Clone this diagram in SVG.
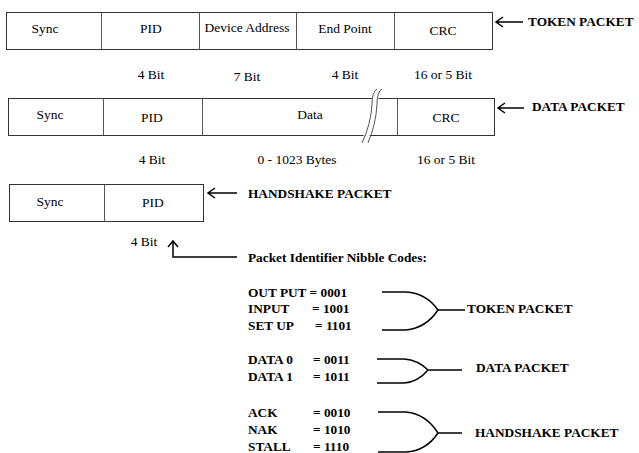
<svg xmlns="http://www.w3.org/2000/svg" width="639" height="453" viewBox="0 0 639 453" font-family="Liberation Serif, DejaVu Serif, serif">
<style>
.box{fill:#fff;stroke:#333;stroke-width:1}
.div{stroke:#555;stroke-width:1}
.t{font-size:13.5px;fill:#000;text-anchor:middle}
.b{font-size:13.3px;font-weight:bold;fill:#000}
.ln{fill:none;stroke:#000;stroke-width:1.5}
</style>
<rect width="639" height="453" fill="#fff"/>
<g id="token-packet">
<rect class="box" x="6.5" y="12.5" width="486" height="37"/>
<line class="div" x1="101.5" y1="12.5" x2="101.5" y2="49.5"/>
<line class="div" x1="199.5" y1="12.5" x2="199.5" y2="49.5"/>
<line class="div" x1="296.5" y1="12.5" x2="296.5" y2="49.5"/>
<line class="div" x1="394.5" y1="12.5" x2="394.5" y2="49.5"/>
<text class="t" x="45" y="33">Sync</text>
<text class="t" x="151" y="33">PID</text>
<text class="t" x="247" y="32">Device Address</text>
<text class="t" x="345" y="33">End Point</text>
<text class="t" x="443" y="35">CRC</text>
<text class="t" x="151" y="79">4 Bit</text>
<text class="t" x="247" y="81">7 Bit</text>
<text class="t" x="345" y="79">4 Bit</text>
<text class="t" x="443" y="79">16 or 5 Bit</text>
<text class="b" x="528" y="26">TOKEN PACKET</text>
</g>
<g id="data-packet">
<rect class="box" x="8.5" y="98.5" width="486" height="37"/>
<line class="div" x1="103.5" y1="98.5" x2="103.5" y2="135.5"/>
<line class="div" x1="202.5" y1="98.5" x2="202.5" y2="135.5"/>
<line class="div" x1="397.5" y1="98.5" x2="397.5" y2="135.5"/>
<path d="M373,96 Q369,118 363,138 L369,138 Q375,118 379,96 Z" fill="#fff" stroke="none"/>
<path class="div" fill="none" d="M377,89 Q372,92 372,104 Q371,124 362,143"/>
<path class="div" fill="none" d="M382,89 Q377,92 377,104 Q376,124 368,143"/>
<text class="t" x="50" y="119">Sync</text>
<text class="t" x="152" y="122">PID</text>
<text class="t" x="310" y="119">Data</text>
<text class="t" x="446" y="122">CRC</text>
<text class="t" x="152" y="164">4 Bit</text>
<text class="t" x="297" y="164">0  - 1023 Bytes</text>
<text class="t" x="446" y="164">16 or 5 Bit</text>
<text class="b" x="532" y="111">DATA PACKET</text>
</g>
<g id="handshake-packet">
<rect class="box" x="9.5" y="184.5" width="194" height="37"/>
<line class="div" x1="104.5" y1="184.5" x2="104.5" y2="221.5"/>
<text class="t" x="50" y="206">Sync</text>
<text class="t" x="153" y="207">PID</text>
<text class="t" x="144" y="246">4 Bit</text>
<text class="b" x="248" y="198">HANDSHAKE PACKET</text>
</g>
<g id="pid-codes">
<text class="b" x="248" y="262">Packet Identifier Nibble Codes:</text>
<text class="b" x="248" y="297">OUT PUT = 0001</text>
<text class="b" x="248" y="313">INPUT</text><text class="b" x="312" y="313">= 1001</text>
<text class="b" x="248" y="330">SET UP</text><text class="b" x="315" y="330">= 1101</text>
<text class="b" x="467" y="313">TOKEN PACKET</text>
<text class="b" x="248" y="364">DATA 0</text><text class="b" x="313" y="364">= 0011</text>
<text class="b" x="248" y="381">DATA 1</text><text class="b" x="313" y="381">= 1011</text>
<text class="b" x="476" y="372">DATA PACKET</text>
<text class="b" x="248" y="417">ACK</text><text class="b" x="313" y="417">= 0010</text>
<text class="b" x="248" y="434">NAK</text><text class="b" x="313" y="434">= 1010</text>
<text class="b" x="248" y="451">STALL</text><text class="b" x="313" y="451">= 1110</text>
<text class="b" x="475" y="437">HANDSHAKE PACKET</text>
</g>
<g id="connectors">
<path class="ln" d="M523,22 H496 M503,17 L496,22 L503,27"/>
<path class="ln" d="M524,108 H498 M505,103 L498,108 L505,113"/>
<path class="ln" d="M237,193 H208 M215,188 L208,193 L215,198"/>
<path class="ln" d="M237,257 H173 V241 M168,247 L173,241 L178,247"/>
<path class="ln" d="M382,292 H406 Q426,293 438,310 Q426,328 406,330 H382 M438,310 H465"/>
<path class="ln" d="M377,359 H404 Q418,360 428,370 Q418,382 404,383 H377 M428,370 H462"/>
<path class="ln" d="M378,412 H406 Q426,414 438,433 Q426,451 406,452 H378 M438,433 H462"/>
</g>
</svg>
